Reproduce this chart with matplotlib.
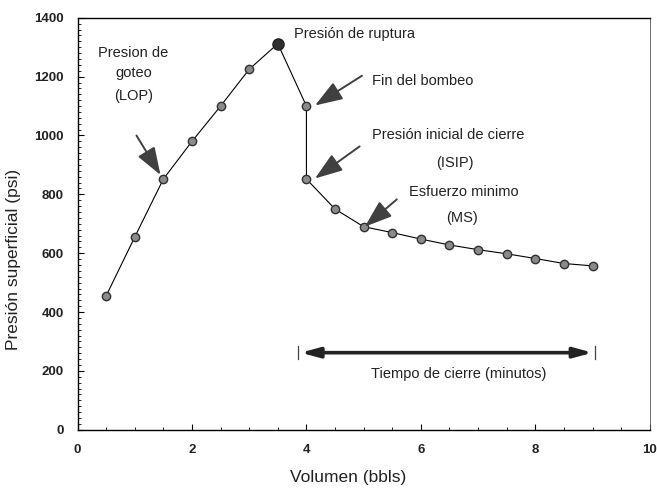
import matplotlib.pyplot as plt
from matplotlib.ticker import MultipleLocator

plt.rcParams['font.family'] = ['Liberation Sans', 'DejaVu Sans']

# Volume (bbls) and surface pressure (psi)
volumen = [0.5, 1.0, 1.5, 2.0, 2.5, 3.0, 3.5, 4.0, 4.0, 4.5, 5.0, 5.5, 6.0, 6.5, 7.0, 7.5, 8.0, 8.5, 9.0]
presion = [455, 655, 852, 980, 1100, 1225, 1312, 1100, 852, 750, 690, 670, 648, 628, 612, 598, 582, 565, 557]

x_ticks = [0, 2, 4, 6, 8, 10]
y_ticks = [0, 200, 400, 600, 800, 1000, 1200, 1400]

# (text, x, y, horizontal alignment)
etiquetas = [
    ('Presion de', 0.98, 1282, 'center'),
    ('goteo', 0.98, 1214, 'center'),
    ('(LOP)', 0.98, 1135, 'center'),
    ('Presión de ruptura', 3.79, 1346, 'left'),
    ('Fin del bombeo', 5.14, 1186, 'left'),
    ('Presión inicial de cierre', 5.14, 1000, 'left'),
    ('(ISIP)', 6.59, 905, 'center'),
    ('Esfuerzo minimo', 5.79, 807, 'left'),
    ('(MS)', 6.71, 719, 'center'),
    ('Tiempo de cierre (minutos)', 6.66, 190, 'center'),
]

# (tail x, tail y, tip x, tip y)
flechas = [
    (1.03, 1000, 1.45, 866),
    (4.97, 1203, 4.15, 1102),
    (4.93, 963, 4.15, 854),
    (5.58, 783, 5.02, 690),
]

tiempo_cierre = (3.9, 9.0, 262)


def main():
    fig = plt.figure(figsize=(6.57, 4.94), dpi=100)
    ax = fig.add_axes([0.118, 0.13, 0.871, 0.834])

    ax.plot(volumen, presion, '-', color='black', lw=0.8, zorder=2)
    ax.plot(volumen, presion, 'o', ms=6, mfc='#8a8a8a', mec='#303030', mew=1.0, zorder=3)
    ax.plot(volumen[6], presion[6], 'o', ms=8, mfc='#303030', mec='#202020', zorder=4)

    for texto, x, y, ha in etiquetas:
        ax.text(x, y, texto, ha=ha, va='center', fontsize=10.5, color='#222222')

    for x0, y0, x1, y1 in flechas:
        ax.annotate('', xy=(x1, y1), xytext=(x0, y0),
                    arrowprops=dict(arrowstyle='-|>,head_length=1.7,head_width=0.6',
                                    lw=1.4, color='#404040', shrinkA=0, shrinkB=0))

    x0, x1, y = tiempo_cierre
    ax.annotate('', xy=(x1, y), xytext=(x0, y),
                arrowprops=dict(arrowstyle='<|-|>,head_length=1.1,head_width=0.3',
                                lw=2.6, color='#222222', shrinkA=0, shrinkB=0))
    ax.plot([x0 - 0.05, x0 - 0.05], [y - 22, y + 22], color='#444444', lw=0.9)
    ax.plot([x1 + 0.05, x1 + 0.05], [y - 22, y + 22], color='#444444', lw=0.9)

    ax.set_xlim(0, 10)
    ax.set_ylim(0, 1400)
    ax.set_xticks(x_ticks)
    ax.set_yticks(y_ticks)
    ax.xaxis.set_minor_locator(MultipleLocator(0.5))
    ax.yaxis.set_minor_locator(MultipleLocator(20))
    ax.tick_params(which='major', direction='in', length=4, width=0.8, labelsize=9.5, pad=10)
    ax.tick_params(which='minor', direction='in', length=2, width=0.6)
    for lbl in ax.get_xticklabels() + ax.get_yticklabels():
        lbl.set_fontweight('bold')
        lbl.set_color('#222222')

    for side in ['left', 'bottom', 'top']:
        ax.spines[side].set_linewidth(1.0)
    ax.spines['right'].set_linewidth(0.6)
    ax.spines['right'].set_color('#555555')

    ax.set_xlabel('Volumen (bbls)', fontsize=12.5, color='#222222')
    ax.set_ylabel('Presión superficial (psi)', fontsize=12.5, color='#222222')
    # labels sit a little off-centre in the original
    ax.xaxis.set_label_coords(0.472, -0.098)
    ax.yaxis.set_label_coords(-0.098, 0.413)

    fig.savefig('out.png', dpi=100)


if __name__ == '__main__':
    main()
